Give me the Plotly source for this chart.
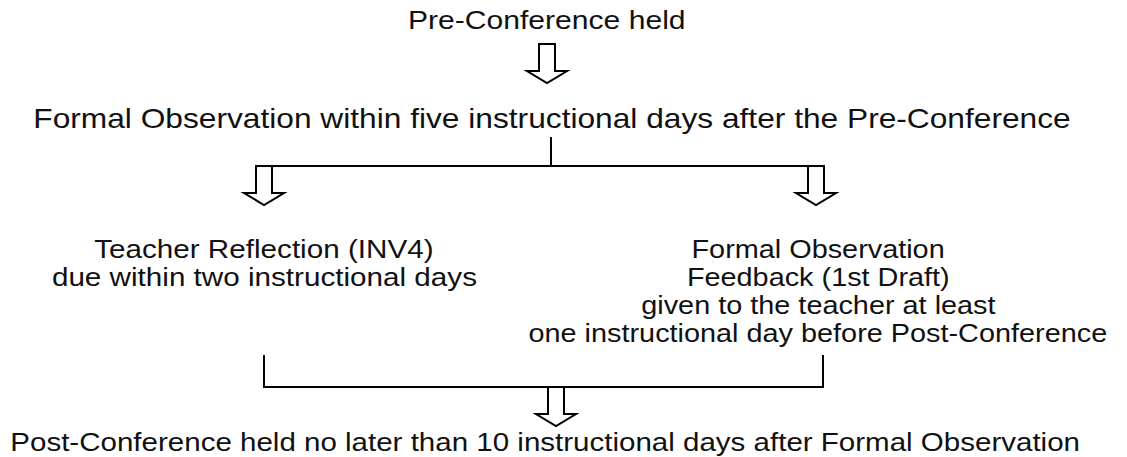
import plotly.graph_objects as go

# ---- content ----
top_label = ["Pre-Conference held"]
observe_label = ["Formal Observation within five instructional days after the Pre-Conference"]
left_lines = ["Teacher Reflection (INV4)", "due within two instructional days"]
right_lines = ["Formal Observation", "Feedback (1st Draft)", "given to the teacher at least",
               "one instructional day before Post-Conference"]
bottom_label = ["Post-Conference held no later than 10 instructional days after Formal Observation"]

# ---- layout (pixel space) ----
W, H = 1127, 457
FAMILY = "Liberation Sans, Arial, sans-serif"
LINE_H = 28
STRETCH = 1.14  # the reference text is horizontally wider than plain Arial

# (lines, center x, first-line center y, font size)
text_blocks = [
    (top_label, 547, 20, 26.4),
    (observe_label, 552, 118, 27.8),
    (left_lines, 264, 249, 26),
    (right_lines, 818, 249, 25.3),
    (bottom_label, 545, 442, 25.9),
]

# block arrows: (center x, top y, head base y, tip y)
arrows = [(547, 44, 71, 83), (264, 166, 193, 205), (816, 166, 193, 205), (556, 387, 414, 426)]
SHAFT_W, HEAD_W = 16, 40

# connector polylines
connectors = [
    [(551, 137), (551, 166)],
    [(256, 166), (824, 166)],
    [(264, 355), (264, 387), (823, 387), (823, 355)],
]

fig = go.Figure()
shapes = []
for pts in connectors:
    d = "M " + " L ".join(f"{x},{y}" for x, y in pts)
    shapes.append(dict(type="path", path=d, xref="x", yref="y",
                       line=dict(color="black", width=2)))
for cx, top, base, tip in arrows:
    s, h = SHAFT_W / 2, HEAD_W / 2
    pts = [(cx - s, top), (cx - s, base), (cx - h, base), (cx, tip),
           (cx + h, base), (cx + s, base), (cx + s, top)]
    d = "M " + " L ".join(f"{x},{y}" for x, y in pts) + " Z"
    shapes.append(dict(type="path", path=d, xref="x", yref="y", fillcolor="white",
                       line=dict(color="black", width=2)))

annotations = []
for lines, cx, y0, size in text_blocks:
    for i, t in enumerate(lines):
        annotations.append(dict(text=t, x=cx, y=y0 + i * LINE_H, xref="x", yref="y",
                                showarrow=False, xanchor="center", yanchor="middle",
                                font=dict(family=FAMILY, size=size, color="#111111")))

fig.update_layout(
    width=W, height=H, margin=dict(l=0, r=0, t=0, b=0),
    paper_bgcolor="white", plot_bgcolor="white",
    xaxis=dict(range=[0, W], visible=False, fixedrange=True),
    yaxis=dict(range=[H, 0], visible=False, fixedrange=True),
    shapes=shapes, annotations=annotations, showlegend=False,
)

post = """
document.body.style.margin='0';document.body.style.overflow='hidden';
document.querySelectorAll('text.annotation-text').forEach(function(t){
  var L = t.getComputedTextLength();
  t.setAttribute('lengthAdjust','spacingAndGlyphs');
  t.setAttribute('textLength', (L*%s).toFixed(1));
});
""" % STRETCH
fig.write_html("out.html", config={"displayModeBar": False}, post_script=post)
